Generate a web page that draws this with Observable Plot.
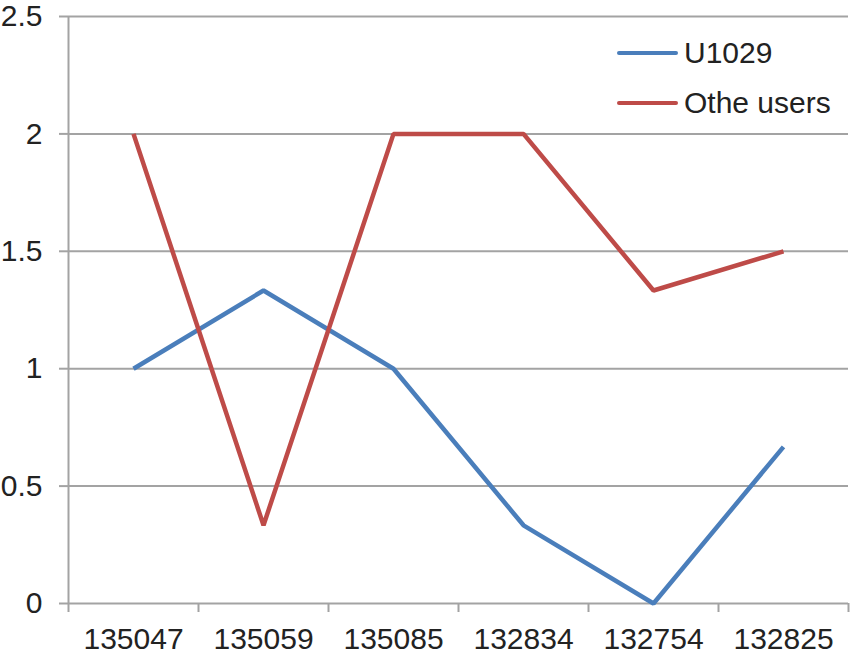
<!DOCTYPE html>
<html>
<head>
<meta charset="utf-8">
<script src="https://cdn.jsdelivr.net/npm/d3@7"></script>
<script src="https://cdn.jsdelivr.net/npm/@observablehq/plot@0.6"></script>
<style>
  html, body { margin: 0; padding: 0; background: #fff; }
  #wrap { position: relative; width: 850px; height: 656px; font-family: "Liberation Sans", Arial, Helvetica, sans-serif; }
  .legend { position: absolute; left: 617px; font-size: 30px; color: #222; }
  .legend .item { display: flex; align-items: center; height: 50px; }
  .legend .sw { width: 61px; height: 4.5px; border-radius: 2px; margin-right: 6px; }
</style>
</head>
<body>
<div id="wrap"></div>
<script>
const categories = ["135047", "135059", "135085", "132834", "132754", "132825"];
const seriesNames = ["U1029", "Othe users"];
const u1029 = [1, 1.333, 1, 0.333, 0, 0.667];
const otherUsers = [2, 0.333, 2, 2, 1.333, 1.5];
const yTicks = [0, 0.5, 1, 1.5, 2, 2.5];
const colors = ["#4a7ebb", "#be4b48"];

const idx = categories.map((_, i) => i);
const boundaries = d3.range(-0.5, categories.length, 1);
const rows = [
  ...u1029.map((v, i) => ({series: seriesNames[0], i, v})),
  ...otherUsers.map((v, i) => ({series: seriesNames[1], i, v}))
];

const grid = "#a3a3a3";
const chart = Plot.plot({
  width: 850,
  height: 656,
  marginLeft: 68,
  marginRight: 2,
  marginTop: 16,
  marginBottom: 53,
  style: {fontFamily: "'Liberation Sans', Arial, Helvetica, sans-serif", fontSize: "30px", color: "#222", background: "#fff"},
  x: {type: "linear", domain: [-0.5, categories.length - 0.5]},
  y: {domain: [0, 2.5]},
  color: {domain: seriesNames, range: colors},
  marks: [
    Plot.ruleY(yTicks, {stroke: grid, strokeWidth: 2, strokeOpacity: 1}),
    Plot.axisY({ticks: yTicks, tickSize: 9, tickPadding: 17, stroke: grid, strokeWidth: 2, strokeOpacity: 1, tickFormat: d => String(d), fill: "#222", fontSize: 30, label: null}),
    Plot.ruleX([-0.5], {stroke: grid, strokeWidth: 2}),
    Plot.axisX({ticks: boundaries, tickSize: 9, stroke: grid, strokeWidth: 2, strokeOpacity: 1, tickFormat: () => "", label: null}),
    Plot.axisX({ticks: idx, tickSize: 0, tickPadding: 24, tickFormat: i => categories[i], fill: "#222", fontSize: 30, label: null}),
    Plot.line(rows, {x: "i", y: "v", z: "series", stroke: "series", strokeWidth: 4.5, strokeLinejoin: "miter", strokeLinecap: "butt"})
  ]
});
const wrap = document.getElementById("wrap");
wrap.appendChild(chart);

const legend = document.createElement("div");
legend.className = "legend";
legend.style.top = "28px";
seriesNames.forEach((name, k) => {
  const it = document.createElement("div");
  it.className = "item";
  const sw = document.createElement("div");
  sw.className = "sw";
  sw.style.background = colors[k];
  const tx = document.createElement("span");
  tx.textContent = name;
  it.appendChild(sw);
  it.appendChild(tx);
  legend.appendChild(it);
});
wrap.appendChild(legend);
</script>
</body>
</html>
